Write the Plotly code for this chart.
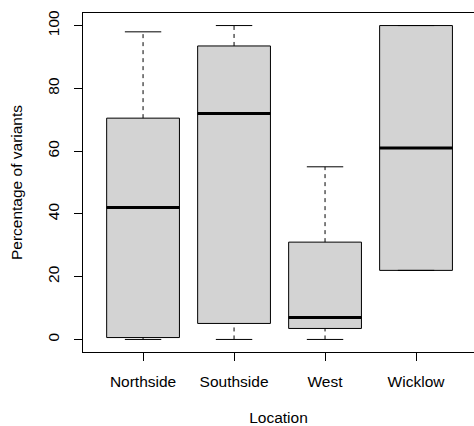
import plotly.graph_objects as go

locations = ["Northside", "Southside", "West", "Wicklow"]
whisker_low = [0, 0, 0, 22]
q1 = [0.6, 5.1, 3.5, 22]
median = [42, 72, 7, 61]
q3 = [70.5, 93.5, 31, 100]
whisker_high = [98, 100, 55, 100]
y_ticks = [0, 20, 40, 60, 80, 100]

pos = list(range(1, len(locations) + 1))
box_width = 0.8
cap_width = 0.4

fig = go.Figure()
fig.add_trace(go.Box(
    x=pos, q1=q1, median=median, q3=q3, lowerfence=q1, upperfence=q3,
    width=box_width, fillcolor="#D3D3D3", line=dict(color="black", width=1),
    whiskerwidth=0, boxpoints=False, hoverinfo="skip", showlegend=False))

# dashed whiskers
wx, wy = [], []
for p, lo, a, b, hi in zip(pos, whisker_low, q1, q3, whisker_high):
    wx += [p, p, None, p, p, None]
    wy += [lo, a, None, b, hi, None]
fig.add_trace(go.Scatter(x=wx, y=wy, mode="lines",
                         line=dict(color="black", width=1, dash="4px,4px"),
                         hoverinfo="skip", showlegend=False))

# caps
cx, cy = [], []
for p, lo, hi in zip(pos, whisker_low, whisker_high):
    cx += [p - cap_width / 2, p + cap_width / 2, None, p - cap_width / 2, p + cap_width / 2, None]
    cy += [lo, lo, None, hi, hi, None]
fig.add_trace(go.Scatter(x=cx, y=cy, mode="lines",
                         line=dict(color="black", width=1),
                         hoverinfo="skip", showlegend=False))

# thick medians
mx, my = [], []
for p, m in zip(pos, median):
    mx += [p - box_width / 2, p + box_width / 2, None]
    my += [m, m, None]
fig.add_trace(go.Scatter(x=mx, y=my, mode="lines",
                         line=dict(color="black", width=3),
                         hoverinfo="skip", showlegend=False))

fs = 15.5
fig.update_layout(
    width=474, height=426,
    margin=dict(l=83, r=0, t=13, b=74),
    paper_bgcolor="white", plot_bgcolor="white",
    font=dict(family="Liberation Sans, Arial, sans-serif", size=fs, color="black"),
    showlegend=False,
    xaxis=dict(range=[0.34, 4.637], tickvals=pos, ticktext=locations,
               showline=True, mirror=True, linecolor="black", linewidth=1,
               ticks="outside", ticklen=8, tickcolor="black", tickwidth=1,
               ticklabelstandoff=7, tickfont=dict(size=fs),
               showgrid=False, zeroline=False, automargin=False,
               title=dict(text="Location", standoff=29, font=dict(size=fs))),
    yaxis=dict(range=[-4, 104], tickvals=y_ticks, tickangle=-90,
               showline=True, mirror=False, linecolor="black", linewidth=1,
               ticks="outside", ticklen=8, tickcolor="black", tickwidth=1,
               ticklabelstandoff=9, tickfont=dict(size=fs),
               showgrid=False, zeroline=False, automargin=False,
               title=dict(text="Percentage of variants", standoff=18, font=dict(size=fs))),
)

fig.write_html("out.html")
